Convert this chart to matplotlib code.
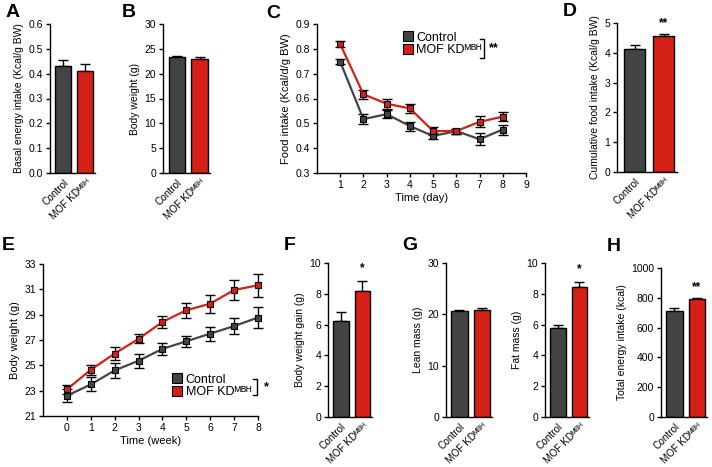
import numpy as np
from matplotlib import pyplot as plt
from matplotlib.patches import Patch

plt.rcParams['font.family'] = ['Liberation Sans', 'DejaVu Sans']
plt.rcParams['font.size'] = 7.5
plt.rcParams['axes.linewidth'] = 1.0

GREY = '#444444'
RED = '#d42016'
groups = ['Control', 'MOF KD\u1d39\u1d2e\u1d34']

# bar panels: mean, sem
basal = [0.43, 0.41]
basal_err = [0.027, 0.03]
bw = [23.3, 23.0]
bw_err = [0.2, 0.35]
cum_intake = [4.13, 4.56]
cum_intake_err = [0.13, 0.08]
bw_gain = [6.23, 8.18]
bw_gain_err = [0.56, 0.68]
lean = [20.6, 20.9]
lean_err = [0.2, 0.3]
fat = [5.75, 8.45]
fat_err = [0.25, 0.3]
total_energy = [710, 790]
total_energy_err = [22, 10]

# food intake per day
days = [1, 2, 3, 4, 5, 6, 7, 8]
food_ctrl = [0.748, 0.517, 0.537, 0.489, 0.449, 0.469, 0.436, 0.475]
food_ctrl_err = [0.01, 0.02, 0.015, 0.018, 0.012, 0.01, 0.025, 0.02]
food_mof = [0.819, 0.617, 0.579, 0.56, 0.469, 0.469, 0.506, 0.527]
food_mof_err = [0.012, 0.018, 0.02, 0.018, 0.015, 0.01, 0.022, 0.018]

# body weight per week
weeks = [0, 1, 2, 3, 4, 5, 6, 7, 8]
bw_ctrl = [22.6, 23.49, 24.6, 25.36, 26.3, 26.9, 27.5, 28.1, 28.77]
bw_ctrl_err = [0.5, 0.55, 0.6, 0.55, 0.45, 0.45, 0.55, 0.65, 0.8]
bw_mof = [23.1, 24.65, 25.93, 27.09, 28.43, 29.35, 29.87, 30.95, 31.32]
bw_mof_err = [0.35, 0.4, 0.5, 0.35, 0.5, 0.6, 0.7, 0.8, 0.9]

W, H = 712, 467
fig = plt.figure(figsize=(W / 100, H / 100), dpi=100)


def px_axes(x0, y0, x1, y1):
    return fig.add_axes([x0 / W, 1 - y1 / H, (x1 - x0) / W, (y1 - y0) / H])


def style(ax):
    for s in ['top', 'right']:
        ax.spines[s].set_visible(False)
    ax.tick_params(direction='out', length=3, width=1, pad=2)


def bar_panel(box, vals, errs, ylim, yticks, ylabel, star=None, star_y=None):
    ax = px_axes(*box)
    style(ax)
    x = np.arange(2)
    ax.bar(x, vals, width=0.72, color=[GREY, RED], edgecolor='k', linewidth=1.0, zorder=2)
    ax.errorbar(x, vals, yerr=[[0, 0], errs], fmt='none', ecolor='k', elinewidth=1.0,
                capsize=3.5, capthick=1.0, zorder=1)
    ax.set_xlim(-0.6, 1.45)
    ax.set_ylim(*ylim)
    ax.set_yticks(yticks)
    ax.set_xticks(x)
    ax.set_xticklabels(groups, rotation=45, ha='right', rotation_mode='anchor', fontsize=7.2)
    ax.tick_params(axis='x', length=0, pad=3)
    ax.set_ylabel(ylabel, labelpad=3)
    if star:
        ax.text(1, star_y, star, ha='center', va='center', fontsize=8.5, fontweight='bold')
    return ax


bar_panel((50, 24, 95, 173), basal, basal_err, (0, 0.6),
          [0, 0.1, 0.2, 0.3, 0.4, 0.5, 0.6], 'Basal energy intake (Kcal/g BW)')
bar_panel((163, 24, 210, 173), bw, bw_err, (0, 30), [0, 5, 10, 15, 20, 25, 30],
          'Body weight (g)')
bar_panel((617, 23, 677, 172), cum_intake, cum_intake_err, (0, 5), [0, 1, 2, 3, 4, 5],
          'Cumulative food intake (Kcal/g BW)', '**', 5.0)
bar_panel((328, 263, 372, 417), bw_gain, bw_gain_err, (0, 10), [0, 2, 4, 6, 8, 10],
          'Body weight gain (g)', '*', 9.65)
bar_panel((446, 263, 492, 417), lean, lean_err, (0, 30), [0, 10, 20, 30], 'Lean mass (g)')
bar_panel((545, 263, 589, 417), fat, fat_err, (0, 10), [0, 2, 4, 6, 8, 10],
          'Fat mass (g)', '*', 9.6)
bar_panel((661, 268, 707, 417), total_energy, total_energy_err, (0, 1000),
          [0, 200, 400, 600, 800, 1000], 'Total energy intake (kcal)', '**', 870)


def line_series(ax, x, y, e, color):
    ax.errorbar(x, y, yerr=e, fmt='none', ecolor='k', elinewidth=1.0, capsize=3.5,
                capthick=1.0, zorder=2, clip_on=False)
    ax.plot(x, y, '-s', color=color, lw=1.6, markersize=5, markeredgecolor='k',
            markeredgewidth=0.8, zorder=3, clip_on=False)


def legend_block(ax, x, y, bx, sy, star):
    handles = [Patch(facecolor=GREY, edgecolor='k', lw=0.8),
               Patch(facecolor=RED, edgecolor='k', lw=0.8)]
    ax.legend(handles, groups, loc='upper left', bbox_to_anchor=(x, y), frameon=False,
              fontsize=9, handlelength=0.8, handleheight=0.8, handletextpad=0.3,
              labelspacing=0.05, borderpad=0, borderaxespad=0)
    y0, y1 = sy
    ax.plot([bx - 0.02, bx, bx, bx - 0.02], [y0, y0, y1, y1], color='k', lw=1,
            transform=ax.transAxes, clip_on=False)
    ax.text(bx + 0.045, (y0 + y1) / 2, star, transform=ax.transAxes, ha='center',
            va='center', fontsize=9, fontweight='bold')


# C: food intake
axc = px_axes(317, 24, 526, 173)
style(axc)
line_series(axc, days, food_ctrl, food_ctrl_err, GREY)
line_series(axc, days, food_mof, food_mof_err, RED)
axc.set_xlim(0, 9)
axc.set_ylim(0.3, 0.9)
axc.set_xticks(range(1, 10))
axc.set_yticks([0.3, 0.4, 0.5, 0.6, 0.7, 0.8, 0.9])
axc.set_xlabel('Time (day)', fontsize=8, labelpad=2)
axc.set_ylabel('Food intake (Kcal/d/g BW)', fontsize=8, labelpad=3)
legend_block(axc, 0.41, 0.95, 0.80, (0.90, 0.77), '**')

# E: body weight over time
axe = px_axes(43, 264, 258, 416)
style(axe)
line_series(axe, weeks, bw_ctrl, bw_ctrl_err, GREY)
line_series(axe, weeks, bw_mof, bw_mof_err, RED)
axe.set_xlim(-1, 8)
axe.set_ylim(21, 33)
axe.set_xticks(weeks)
axe.set_yticks([21, 23, 25, 27, 29, 31, 33])
axe.set_xlabel('Time (week)', fontsize=8, labelpad=2)
axe.set_ylabel('Body weight (g)', fontsize=8, labelpad=3)
legend_block(axe, 0.6, 0.28, 0.995, (0.245, 0.135), '*')

letters = {'A': (6, 4), 'B': (122, 4), 'C': (266, 5), 'D': (563, 3),
           'E': (2, 237), 'F': (284, 237), 'G': (402, 237), 'H': (607, 238)}
for k, (x, y) in letters.items():
    fig.text(x / W, 1 - y / H, k, fontsize=14, fontweight='bold', va='top', ha='left')

fig.savefig('out.png', dpi=100)
